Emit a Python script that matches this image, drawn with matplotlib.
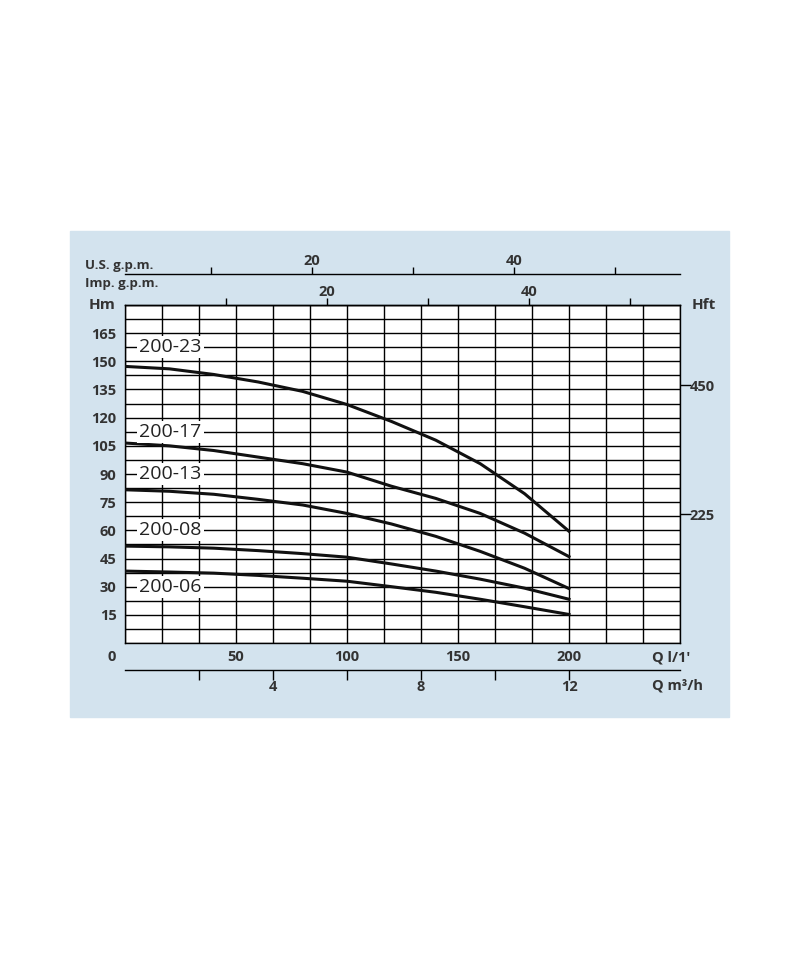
import numpy as np
import matplotlib
matplotlib.use("Agg")
import matplotlib.pyplot as plt
from matplotlib.patches import Rectangle

plt.rcParams['font.family'] = ['Open Sans', 'DejaVu Sans']

# flow in l/min, head in m
q = [0, 20, 40, 60, 80, 100, 120, 140, 160, 180, 200]
h_200_23 = [147.3, 146.0, 143.0, 139.0, 134.0, 127.0, 118.0, 108.0, 95.5, 79.5, 59.5]
h_200_17 = [106.5, 105.0, 102.5, 99.0, 95.5, 91.0, 83.5, 77.0, 69.0, 58.5, 46.0]
h_200_13 = [81.6, 80.8, 79.2, 76.5, 73.5, 69.0, 63.4, 56.8, 48.8, 39.8, 29.0]
h_200_08 = [51.6, 51.2, 50.5, 49.2, 47.6, 45.7, 42.1, 38.3, 34.0, 29.2, 23.3]
h_200_06 = [38.3, 37.8, 37.2, 36.0, 34.5, 32.9, 30.0, 27.0, 23.3, 19.3, 15.2]

curves = [h_200_23, h_200_17, h_200_13, h_200_08, h_200_06]
names = ['200-23', '200-17', '200-13', '200-08', '200-06']
label_h = [157.5, 112.5, 90, 60, 30]

q_ticks = [50, 100, 150, 200]
hm_ticks = [15, 30, 45, 60, 75, 90, 105, 120, 135, 150, 165]
hft_ticks = [225, 450]
imp_ticks = [10, 20, 30, 40, 50]
imp_labels = ['', '20', '', '40', '']
us_ticks = [10, 20, 30, 40, 50]
us_labels = ['', '20', '', '40', '']
m3h_ticks = [2, 4, 6, 8, 10, 12]
m3h_labels = ['', '4', '', '8', '', '12']

txt = '#333333'
W, H = 800, 968

fig = plt.figure(figsize=(8, 9.68), dpi=100)
fig.patches.append(Rectangle((70 / W, 1 - 717 / H), 659 / W, 486 / H,
                             transform=fig.transFigure, color='#d3e3ee', zorder=-10))

ax = fig.add_axes([125 / W, 1 - 643 / H, 555 / W, 338 / H])
ax.set_facecolor('white')
ax.set_xlim(0, 250)
ax.set_ylim(0, 180)

ax.set_xticks(q_ticks)
ax.set_xticks(np.arange(0, 251, 50 / 3), minor=True)
ax.set_yticks(hm_ticks)
ax.set_yticks(np.arange(0, 181, 7.5), minor=True)
ax.grid(which='both', color='black', linewidth=1.0)
ax.set_axisbelow(True)
ax.tick_params(which='both', length=0)
ax.tick_params(axis='x', pad=5, labelsize=10.5, labelcolor=txt)
ax.tick_params(axis='y', pad=6, labelsize=10.5, labelcolor=txt)
for lab in ax.get_xticklabels() + ax.get_yticklabels():
    lab.set_fontweight('bold')
for sp in ax.spines.values():
    sp.set_linewidth(1.0)

for h, name, lh in zip(curves, names, label_h):
    ax.plot(q, h, color='#111111', linewidth=2.2, zorder=3)
    ax.text(6.5, lh, name, fontsize=14, color='#222222', va='center', ha='left', zorder=4,
            bbox=dict(facecolor='white', edgecolor='none', pad=1.5))

# top scales
imp = ax.secondary_xaxis('top', functions=(lambda x: x / 4.546, lambda g: g * 4.546))
imp.set_xticks(imp_ticks, imp_labels)
imp.tick_params(direction='out', length=5, width=1, pad=-1, labelsize=10.5, labelcolor=txt)
imp.spines['top'].set_linewidth(1.0)

# the source chart draws the US scale with the imperial spacing, shifted
us = ax.secondary_xaxis(1 + 31 / 338, functions=(lambda x: (x + 6.7) / 4.546,
                                                  lambda g: g * 4.546 - 6.7))
us.set_xticks(us_ticks, us_labels)
us.tick_params(direction='out', length=5, width=1, pad=-1, labelsize=10.5, labelcolor=txt)
us.spines['top'].set_linewidth(1.0)

# bottom m3/h scale
m3 = ax.secondary_xaxis(-27 / 338, functions=(lambda x: x * 0.06, lambda m: m / 0.06))
m3.set_xticks(m3h_ticks, m3h_labels)
m3.tick_params(direction='out', length=7, width=1, pad=0, labelsize=10.5, labelcolor=txt)
m3.spines['bottom'].set_linewidth(1.0)

# right feet scale
ft = ax.secondary_yaxis('right', functions=(lambda m: m / 0.3048, lambda f: f * 0.3048))
ft.set_yticks(hft_ticks)
ft.tick_params(direction='out', length=8, width=1, pad=-1, labelsize=10.5, labelcolor=txt)
ft.spines['right'].set_visible(False)

for a in (imp, us, m3, ft):
    for lab in a.get_xticklabels() + a.get_yticklabels():
        lab.set_fontweight('bold')

def ftext(x, y, s, **kw):
    fig.text(x / W, 1 - y / H, s, color=txt, fontweight='bold', **kw)

ftext(85, 265, 'U.S. g.p.m.', fontsize=9.5, va='center', ha='left')
ftext(85, 283, 'Imp. g.p.m.', fontsize=9.5, va='center', ha='left')
ftext(116, 305, 'Hm', fontsize=11, va='center', ha='right')
ftext(116, 657, '0', fontsize=10.5, va='center', ha='right')
ftext(692, 305, 'Hft', fontsize=11, va='center', ha='left')
ftext(652, 657, "Q l/1'", fontsize=10.5, va='center', ha='left')
ftext(652, 685, 'Q m³/h', fontsize=10.5, va='center', ha='left')

fig.savefig('out.png', dpi=100, facecolor='white')
